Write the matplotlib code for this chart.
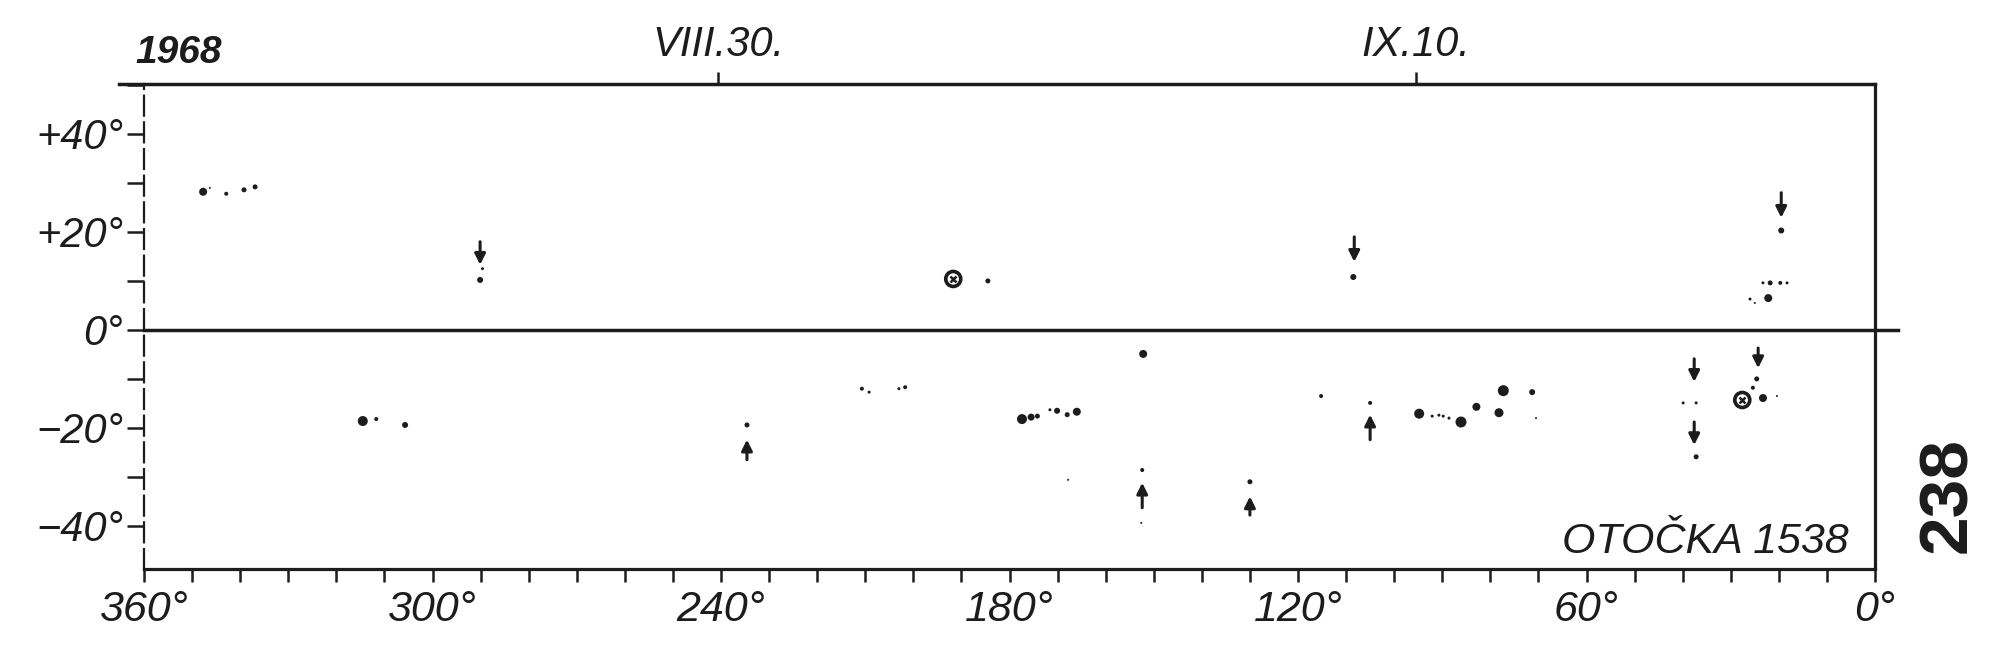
import numpy as np
import matplotlib
matplotlib.use("Agg")
import matplotlib.pyplot as plt
from matplotlib.ticker import MultipleLocator

# spots: carrington longitude, latitude, dot size (px)
spot_lon = [347.7, 346.3, 342.9, 339.2, 336.9, 290.1, 289.6, 184.5, 108.5, 19.5,
            23.3, 21.8, 19.7, 18.3, 26.0, 25.0, 22.2,
            314.5, 311.7, 305.7, 234.6, 210.7, 209.2, 203.0, 201.7,
            177.4, 175.5, 174.2, 171.6, 170.1, 168.0, 166.0, 167.8, 152.2, 152.4, 152.6,
            130.0, 115.2, 105.0, 94.8, 92.1, 90.7, 89.8, 88.6, 86.1,
            82.9, 77.3, 78.2, 71.3, 70.5, 24.6, 25.4, 23.3, 20.4, 39.9, 37.2, 37.2]
spot_lat = [28.2, 29.0, 27.8, 28.6, 29.2, 10.2, 12.5, 10.0, 10.8, 20.3,
            9.6, 9.6, 9.6, 9.6, 6.3, 5.5, 6.5,
            -18.6, -18.2, -19.4, -19.4, -12.0, -12.7, -12.0, -11.7,
            -18.2, -17.8, -17.6, -16.3, -16.5, -17.3, -16.7, -30.6, -4.9, -28.6, -39.4,
            -31.0, -13.5, -14.9, -17.1, -17.6, -17.4, -17.6, -18.0, -18.8,
            -15.7, -12.4, -16.9, -12.7, -18.0, -10.0, -11.8, -13.9, -13.5, -14.9, -14.9, -25.9]
spot_size = [8, 2, 4, 5, 5, 6, 3, 5, 6, 6,
             3, 5, 4, 3, 3, 2, 8,
             10, 4, 6, 5, 4, 3, 3, 4,
             10, 7, 5, 3, 6, 5, 8, 2, 8, 4, 2,
             5, 4, 4, 10, 3, 3, 3, 3, 11,
             8, 11, 9, 6, 2, 5, 4, 8, 2, 3, 3, 5]

# spots with penumbra (drawn as rings)
pen_lon = [191.7, 27.6]
pen_lat = [10.4, -14.3]

# arrows: longitude, latitude of tail, latitude of head
arrow_lon = [290.1, 108.3, 19.5, 24.3, 37.6, 37.6, 234.6, 152.4, 130.0, 105.0]
arrow_from = [18.0, 19.0, 28.0, -3.7, -5.9, -18.8, -26.5, -36.3, -37.8, -22.4]
arrow_to = [13.3, 13.9, 22.9, -7.8, -10.6, -23.5, -22.4, -31.2, -34.0, -17.3]

date_lon = [240.6, 95.4]
date_labels = ["VIII.30.", "IX.10."]

lon_ticks = [360, 300, 240, 180, 120, 60, 0]
lat_ticks = [40, 20, 0, -20, -40]
lat_labels = ["+40°", "+20°", "0°", "−20°", "−40°"]

ink = "#1c1c1c"
plt.rcParams["font.family"] = ["Liberation Sans", "DejaVu Sans"]
plt.rcParams["font.style"] = "italic"

fig = plt.figure(figsize=(20, 6.64), dpi=100)
ax = fig.add_axes([0.072, 0.1431, 0.8655, 0.7304])
ymin, ymax = -48.8, 50.2
ax.set_xlim(360, 0)
ax.set_ylim(ymin, ymax)

# frame like the hand drawing
ax.spines["top"].set_visible(False)
ax.spines["left"].set_linestyle((0, (9, 3)))
ax.spines["left"].set_linewidth(1.6)
for s in ["bottom", "right"]:
    ax.spines[s].set_linewidth(2.3)
for s in ax.spines.values():
    s.set_color(ink)
ax.plot([365.3, 0], [ymax, ymax], color=ink, lw=2.5, clip_on=False)
ax.plot([360, -4.8], [0, 0], color=ink, lw=2.5, clip_on=False)

ax.set_xticks(lon_ticks, [f"{v}°" for v in lon_ticks])
ax.xaxis.set_minor_locator(MultipleLocator(10))
ax.set_yticks(lat_ticks, lat_labels)
ax.yaxis.set_minor_locator(MultipleLocator(10))
ax.tick_params(axis="x", which="both", direction="out", length=9, width=1.8,
               color=ink, labelsize=31, labelcolor=ink, pad=6)
ax.tick_params(axis="y", which="both", direction="out", length=12, width=1.8,
               color=ink, labelsize=30, labelcolor=ink, pad=3)

sec = ax.secondary_xaxis("top")
sec.set_xticks(date_lon, date_labels)
sec.spines["top"].set_visible(False)
sec.tick_params(direction="out", length=9, width=1.8, color=ink,
                labelsize=30, labelcolor=ink, pad=5)
ax.text(352.9, 54.5, "1968", ha="center", va="baseline", fontsize=28,
        fontweight="bold", color=ink, clip_on=False)

# spots
ax.scatter(spot_lon, spot_lat, s=(np.array(spot_size) * 0.72) ** 2,
           color=ink, linewidths=0, zorder=3)
ax.scatter(pen_lon, pen_lat, s=(15 * 0.72) ** 2, facecolors="none",
           edgecolors=ink, linewidths=2.6, zorder=3)
ax.scatter(pen_lon, pen_lat, s=(6 * 0.72) ** 2, marker="x", color=ink,
           linewidths=1.8, zorder=3)

for lon, a, b in zip(arrow_lon, arrow_from, arrow_to):
    ax.annotate("", xy=(lon, b), xytext=(lon, a),
                arrowprops=dict(arrowstyle="-|>", color=ink, lw=2.2,
                                mutation_scale=16, shrinkA=0, shrinkB=0))

ax.text(5.4, -45.5, "OTOČKA 1538", ha="right", va="baseline", fontsize=31,
        color=ink)
fig.text(0.974, 0.255, "238", rotation=90, ha="center", va="center",
         fontsize=50, fontweight="bold", fontstyle="normal", color=ink,
         family=["Liberation Sans", "DejaVu Sans"])

fig.savefig("out.png", dpi=100, facecolor="white")
